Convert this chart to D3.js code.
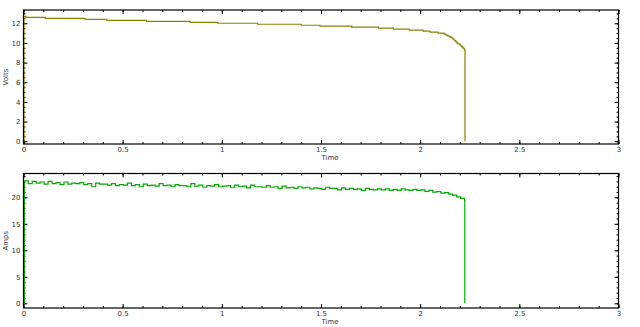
<!DOCTYPE html>
<html>
<head>
<meta charset="utf-8">
<style>
  body { margin: 0; background: #fff; }
  text { font-family: "DejaVu Sans", sans-serif; }
</style>
</head>
<body>
<svg id="chart" width="640" height="327"></svg>
<script src="https://d3js.org/d3.v7.min.js"></script>
<script>
// x axis ticks (Time)
const timeTicks = [0, 0.5, 1, 1.5, 2, 2.5, 3]
const timeLabels = ['0', '0.5', '1', '1.5', '2', '2.5', '3']
const timeMinor = d3.range(0, 3.001, 0.1)

// volts panel ticks
const voltTicks = [0, 2, 4, 6, 8, 10, 12]
const voltMinor = d3.range(0, 13.01, 0.5)

// amps panel ticks
const ampTicks = [0, 5, 10, 15, 20]
const ampMinor = d3.range(0, 24.01, 1)

// battery voltage
const voltTimes = [0, 0.002, 0.012, 0.11, 0.31, 0.42, 0.62, 0.84, 0.98, 1.18, 1.40, 1.495,
  1.655, 1.79, 1.865, 1.945, 2.015, 2.05, 2.09, 2.12, 2.13, 2.14, 2.15, 2.16, 2.165,
  2.17, 2.175, 2.18, 2.185, 2.19, 2.20, 2.205, 2.21, 2.215, 2.22, 2.224, 2.226]
const voltValues = [0, 12.7, 12.6, 12.5, 12.4, 12.3, 12.2, 12.1, 12.0, 11.9, 11.8, 11.7,
  11.6, 11.5, 11.4, 11.3, 11.2, 11.1, 11.0, 10.9, 10.8, 10.7, 10.6, 10.5, 10.4,
  10.3, 10.2, 10.1, 10.0, 9.9, 9.8, 9.7, 9.6, 9.5, 9.4, 9.3, 0]

// current, sampled every 0.02 starting at t = 0.004
const ampStart = 0.004, ampStep = 0.02
const ampValues = [
  23.1, 22.6, 23.0, 22.7, 22.9, 22.5, 23.0, 22.6, 22.8, 22.4, 22.9,
  22.5, 22.7, 22.6, 22.8, 22.4, 22.6, 22.0, 22.7, 22.5, 22.5,
  22.3, 22.6, 22.2, 22.4, 22.3, 22.7, 22.2, 22.4, 22.0, 22.5,
  22.2, 22.3, 22.1, 22.6, 22.2, 22.3, 22.0, 22.4, 22.2, 22.2,
  22.0, 22.6, 22.1, 22.3, 21.9, 22.2, 22.1, 22.4, 22.0, 22.1,
  22.2, 21.9, 22.3, 22.0, 22.1, 21.8, 22.3, 22.0, 22.0, 21.9,
  22.2, 21.9, 22.0, 21.7, 22.1, 21.8, 21.9, 21.7, 22.0, 21.8,
  21.9, 21.6, 21.8, 21.7, 21.5, 21.9, 21.7, 21.7, 21.4, 21.8,
  21.5, 21.7, 21.5, 21.6, 21.3, 21.7, 21.5, 21.4, 21.6, 21.4,
  21.6, 21.3, 21.5, 21.3, 21.6, 21.4, 21.3, 21.5, 21.3, 21.4,
  21.1, 21.3, 21.0, 21.1, 20.8, 20.9, 20.6, 20.4, 20.1, 19.8,
  19.4
]
const ampEnd = 2.225

const svg = d3.select('#chart')
const left = 23.5, right = 618.5

function drawPanel(top, bottom, yDomain, yTicks, yMinor, yLabel, data, color) {
  const x = d3.scaleLinear().domain([0, 3]).range([left, right])
  const y = d3.scaleLinear().domain(yDomain).range([bottom, top])
  const g = svg.append('g')

  // ticks: major and minor, pointing inward on all four sides
  const addAxis = (axis, tr, vals, size, labels) => {
    const a = g.append('g').attr('transform', tr)
      .call(axis.tickValues(vals).tickSizeInner(-size).tickSizeOuter(0)
        .tickPadding(3).tickFormat(labels || ''))
    a.select('.domain').remove()
    a.selectAll('line').attr('stroke', '#000')
    a.selectAll('text').attr('font-size', 7).attr('fill', '#333')
    return a
  }
  addAxis(d3.axisBottom(x), `translate(0,${bottom})`, timeTicks, 4, (d, i) => timeLabels[i])
  addAxis(d3.axisBottom(x), `translate(0,${bottom})`, timeMinor, 2)
  addAxis(d3.axisTop(x), `translate(0,${top})`, timeTicks, 4)
  addAxis(d3.axisTop(x), `translate(0,${top})`, timeMinor, 2)
  addAxis(d3.axisLeft(y), `translate(${left},0)`, yTicks, 4, d3.format('d'))
  addAxis(d3.axisLeft(y), `translate(${left},0)`, yMinor, 2)
  addAxis(d3.axisRight(y), `translate(${right},0)`, yTicks, 4)
  addAxis(d3.axisRight(y), `translate(${right},0)`, yMinor, 2)

  g.append('path')
    .attr('d', d3.line().x(d => x(d[0])).y(d => y(d[1])).curve(d3.curveStepAfter)(data))
    .attr('fill', 'none').attr('stroke', color).attr('stroke-width', 1.2)

  g.append('rect').attr('x', left).attr('y', top)
    .attr('width', right - left).attr('height', bottom - top)
    .attr('fill', 'none').attr('stroke', '#000').attr('stroke-width', 1.2)

  g.append('text').attr('x', 330).attr('y', bottom + 16)
    .attr('text-anchor', 'middle').attr('font-size', 7).attr('fill', '#333').text('Time')
  g.append('text').attr('transform', `translate(8,${(top + bottom) / 2}) rotate(-90)`)
    .attr('text-anchor', 'middle').attr('font-size', 7).attr('fill', '#333').text(yLabel)
}

const voltData = voltTimes.map((t, i) => [t, voltValues[i]])
const ampData = [[0, 0]].concat(ampValues.map((v, i) => [ampStart + i * ampStep, v]), [[ampEnd, 0]])

drawPanel(10, 144, [-0.28, 13.35], voltTicks, voltMinor, 'Volts', voltData, '#858500')
drawPanel(173.5, 308, [-0.89, 24.5], ampTicks, ampMinor, 'Amps', ampData, '#00aa00')
</script>
</body>
</html>
